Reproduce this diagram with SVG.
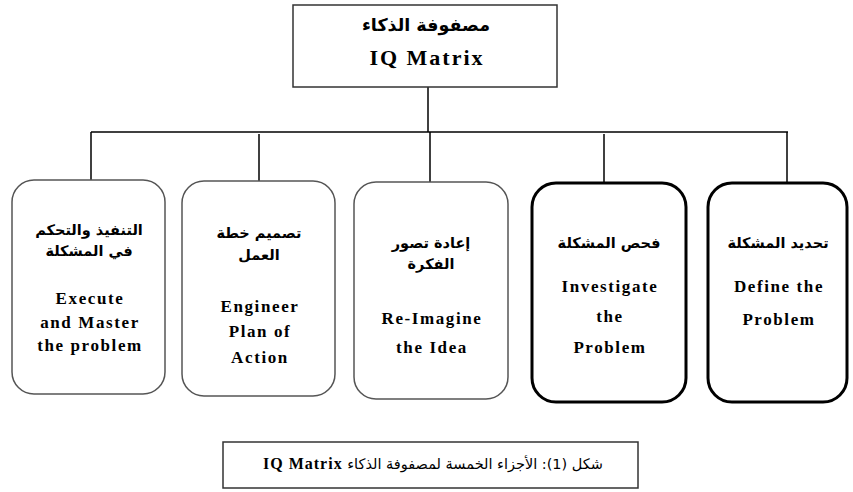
<svg xmlns="http://www.w3.org/2000/svg" width="853" height="492" viewBox="0 0 853 492">
<style>
.bg{fill:#fff}
.thin{fill:#fff;stroke:#555;stroke-width:1.5}
.thick{fill:#fff;stroke:#000;stroke-width:3}
.rect{fill:#fff;stroke:#333;stroke-width:1.5}
.conn line{stroke:#000;stroke-width:1.5}
.ar{font-family:'DejaVu Sans',sans-serif;font-weight:bold;font-size:14.5px;fill:#000;text-anchor:middle}
.en{font-family:'Liberation Serif','Times New Roman','DejaVu Serif',serif;font-weight:bold;font-size:17px;letter-spacing:1.6px;fill:#000;text-anchor:middle}
</style>
<rect class="bg" width="853" height="492"/>
<g id="connectors" class="conn">
<line x1="428" y1="87" x2="428" y2="132"/>
<line x1="91" y1="132" x2="788" y2="132"/>
<line x1="91" y1="132" x2="91" y2="180"/>
<line x1="259" y1="134" x2="259" y2="181"/>
<line x1="430" y1="132" x2="430" y2="182"/>
<line x1="604" y1="134" x2="604" y2="182"/>
<line x1="787" y1="132" x2="787" y2="182"/>
</g>
<g id="root">
<rect class="rect" x="293" y="5" width="264" height="82"/>
<text class="ar" x="426" y="31" style="font-size:17.5px" direction="rtl">مصفوفة الذكاء</text>
<text class="en" x="427" y="65" style="font-size:22px;letter-spacing:2px">IQ Matrix</text>
</g>
<g id="execute">
<rect class="thin" x="12" y="180" width="153" height="214" rx="22"/>
<text class="ar" x="89" y="235" direction="rtl">التنفيذ والتحكم</text>
<text class="ar" x="89" y="256" direction="rtl">في المشكلة</text>
<text class="en" x="90" y="304">Execute</text>
<text class="en" x="90" y="328">and Master</text>
<text class="en" x="90" y="351">the problem</text>
</g>
<g id="engineer">
<rect class="thin" x="182" y="181" width="153" height="215" rx="22"/>
<text class="ar" x="259" y="238" direction="rtl">تصميم خطة</text>
<text class="ar" x="259" y="260" direction="rtl">العمل</text>
<text class="en" x="260" y="312">Engineer</text>
<text class="en" x="260" y="337">Plan of</text>
<text class="en" x="260" y="363">Action</text>
</g>
<g id="reimagine">
<rect class="thin" x="354" y="182" width="154" height="217" rx="22"/>
<text class="ar" x="431" y="248" direction="rtl">إعادة تصور</text>
<text class="ar" x="431" y="269" direction="rtl">الفكرة</text>
<text class="en" x="432" y="324">Re-Imagine</text>
<text class="en" x="432" y="353">the Idea</text>
</g>
<g id="investigate">
<rect class="thick" x="532" y="183" width="154" height="219" rx="24"/>
<text class="ar" x="609" y="248" direction="rtl">فحص المشكلة</text>
<text class="en" x="610" y="292">Investigate</text>
<text class="en" x="610" y="322">the</text>
<text class="en" x="610" y="353">Problem</text>
</g>
<g id="define">
<rect class="thick" x="708" y="183" width="139" height="219" rx="24"/>
<text class="ar" x="778" y="248" direction="rtl">تحديد المشكلة</text>
<text class="en" x="779" y="292">Define the</text>
<text class="en" x="779" y="325">Problem</text>
</g>
<g id="caption">
<rect class="rect" x="223" y="442" width="415" height="46"/>
<text class="ar" x="433" y="469" direction="rtl" style="font-weight:normal;font-size:14.5px">شكل (1): الأجزاء الخمسة لمصفوفة الذكاء <tspan style="font-family:'Liberation Serif','Times New Roman','DejaVu Serif',serif;font-weight:bold;font-size:16px;letter-spacing:1px">IQ Matrix</tspan></text>
</g>
</svg>
